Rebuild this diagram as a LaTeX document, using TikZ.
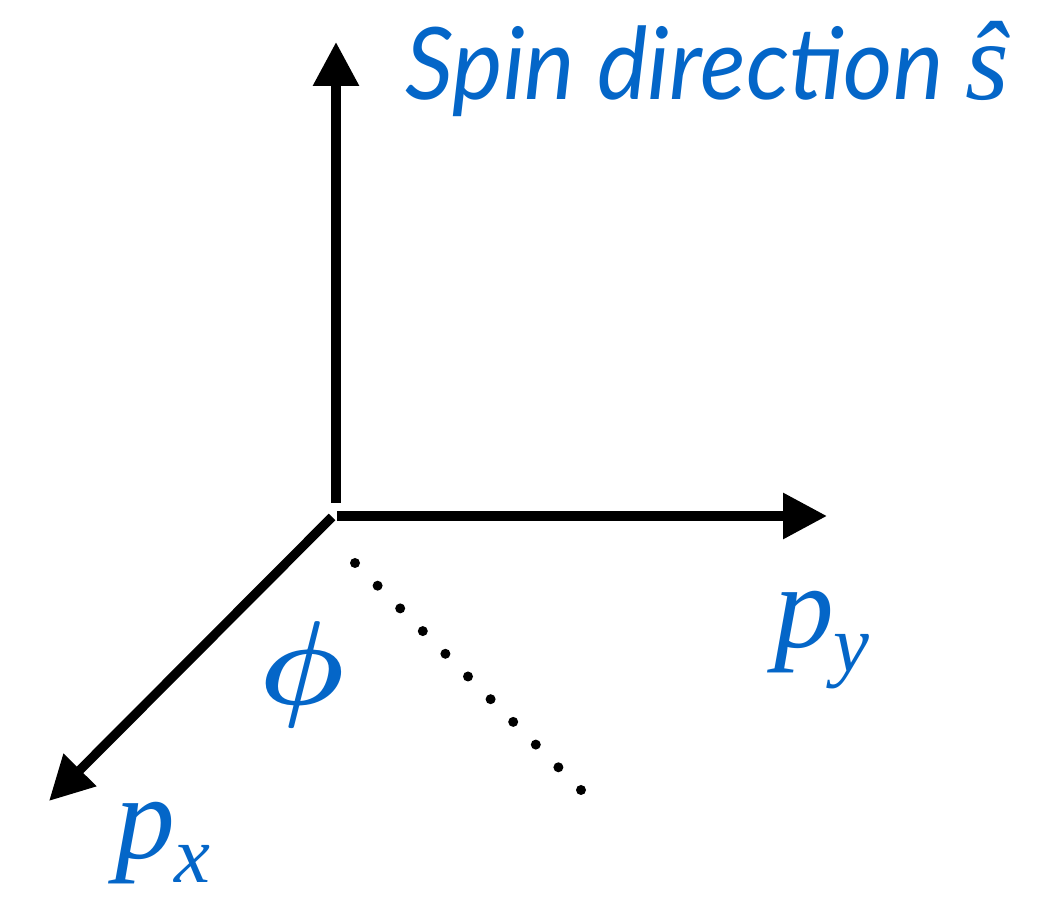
\RequirePackage{fix-cm}
\documentclass[tikz,border=0pt]{standalone}
\usepackage{amsmath}
\usepackage{fontspec}
\setsansfont{Lato}[FakeStretch=0.95]
\newfontfamily\timesit{Liberation Serif}
\usepackage{tikz}
\usetikzlibrary{arrows.meta, positioning, calc}
\definecolor{spinblue}{RGB}{4, 102, 200}

\newcommand{\momlabel}[2]{{\timesit\itshape #1\raisebox{-0.2em}{\fontsize{46}{50}\selectfont #2}}}

\begin{document}
\begin{tikzpicture}[
    axis/.style={line width=5.3pt, -{Triangle[length=0.88cm, width=0.88cm]}},
    axlabel/.style={text=spinblue, inner sep=0pt, font=\fontsize{68}{80}\selectfont},
    titlelabel/.style={text=spinblue, inner sep=0pt, font=\fontsize{57}{66}\selectfont\sffamily\itshape},
    dot/.style={fill=black, draw=none},
]
\useasboundingbox (0,0) rectangle (21.1,18.1);

% Origin and axis ends
\coordinate (origin) at (6.64,7.76);
\coordinate (zstart) at (6.72,8.04);
\coordinate (ystart) at (6.74,7.78);
\coordinate (ztip) at (6.72,17.26);
\coordinate (ytip) at (16.54,7.78);
\coordinate (xtip) at (0.98,2.08);

% Axes
\draw[axis] (zstart) -- (ztip);
\draw[axis] (ystart) -- (ytip);
\draw[axis] (origin) -- (xtip);

% Projection (dotted)
\foreach \i in {0,...,10}
  \fill[dot] ($(7.10,6.84)+\i*(0.452,-0.454)$) circle (0.1);

% Labels
\node[titlelabel, anchor=base west] (spin) at (8.1,16.1) {Spin direction {\timesit\itshape\fontsize{64}{70}\selectfont ŝ}};
\node[axlabel] (phi) at (6.04,4.6) {$\boldsymbol{\phi}$};
\node[axlabel] (py) at (16.44,5.3) {\momlabel{p}{y}};
\node[axlabel] (px) at (3.26,1.24) {\momlabel{p}{x}};

\end{tikzpicture}
\end{document}
